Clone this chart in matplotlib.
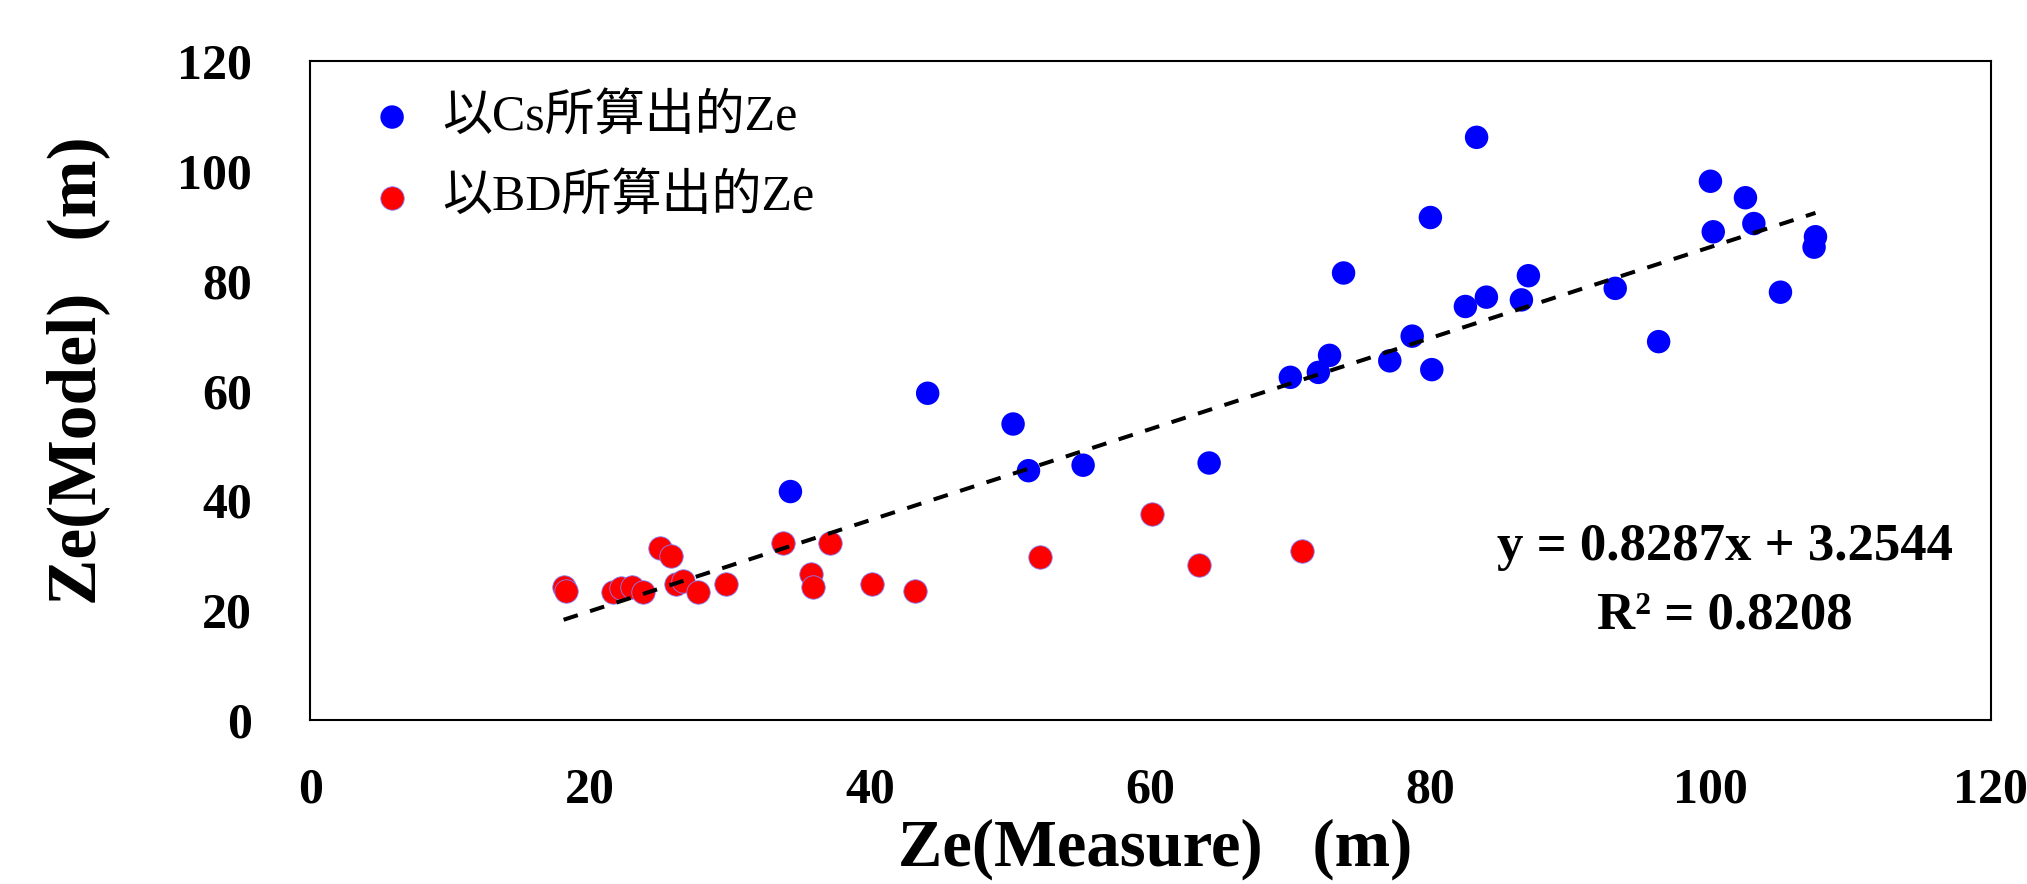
import matplotlib
matplotlib.use('Agg')
import matplotlib.pyplot as plt
import numpy as np

plt.rcParams['font.family'] = ['Liberation Serif', 'Noto Sans CJK TC']

# Ze computed from Cs (blue)
cs_x = [34.3, 44.1, 50.2, 51.3, 55.2, 64.2, 70.0, 72.0, 72.8, 73.8, 77.1, 78.7, 80.0, 80.1,
        82.5, 83.3, 84.0, 86.5, 87.0, 93.2, 96.3, 100.0, 100.2, 102.5, 103.1, 105.0, 107.4, 107.5]
cs_y = [41.6, 59.5, 53.9, 45.4, 46.4, 46.8, 62.4, 63.3, 66.4, 81.4, 65.4, 69.9, 91.5, 63.8,
        75.3, 106.1, 77.0, 76.5, 80.9, 78.6, 68.9, 98.1, 88.9, 95.1, 90.4, 77.9, 86.1, 88.0]

# Ze computed from BD (red)
bd_x = [18.1, 18.3, 21.6, 22.2, 23.0, 23.8, 25.0, 25.8, 26.1, 26.6, 27.7, 29.7, 33.8, 35.8,
        35.9, 37.1, 40.1, 43.2, 52.1, 60.1, 63.5, 70.8]
bd_y = [24.2, 23.5, 23.3, 24.0, 24.2, 23.3, 31.3, 29.9, 24.7, 25.4, 23.3, 24.7, 32.2, 26.6,
        24.2, 32.2, 24.7, 23.5, 29.6, 37.6, 28.2, 30.8]

slope = 0.8287
intercept = 3.2544
r2 = 0.8208

ticks = [0, 20, 40, 60, 80, 100, 120]

fig = plt.figure(figsize=(20.27, 8.84), dpi=100)
ax = fig.add_axes([0.153, 0.1855, 0.829, 0.7455])

ax.scatter(cs_x, cs_y, s=285, color='#0000ff', edgecolors='none', zorder=3,
           label='以Cs所算出的Ze')
ax.scatter(bd_x, bd_y, s=285, color='#ff0000', edgecolors='#8080ff', linewidths=0.6,
           zorder=3, label='以BD所算出的Ze')

# linear trend line over all points
all_x = np.array(cs_x + bd_x)
tx = np.array([all_x.min(), all_x.max()])
ax.plot(tx, slope * tx + intercept, color='black', lw=2.9, dashes=(3.7, 3.2), zorder=4)

ax.set_xlim(0, 120)
ax.set_ylim(0, 120)
ax.set_xticks(ticks)
ax.set_yticks(ticks)
ax.tick_params(length=0, labelsize=36)
ax.tick_params(axis='y', pad=42)
ax.tick_params(axis='x', pad=34)
for lab in ax.get_xticklabels() + ax.get_yticklabels():
    lab.set_fontweight('bold')
for sp in ax.spines.values():
    sp.set_linewidth(1.5)
    sp.set_color('black')

ax.set_xlabel('Ze(Measure)   (m)', fontsize=48, fontweight='bold', va='center')
ax.xaxis.set_label_coords(0.503, -0.196)
ax.set_ylabel('Ze(Model)   (m)', fontsize=50, fontweight='bold', va='center')
ax.yaxis.set_label_coords(-0.138, 0.53)

ax.text(0.842, 0.262, 'y = %.4fx + %.4f' % (slope, intercept), transform=ax.transAxes,
        fontsize=38, fontweight='bold', ha='center', va='center')
ax.text(0.842, 0.158, 'R\u00b2 = %.4f' % r2, transform=ax.transAxes,
        fontsize=38, fontweight='bold', ha='center', va='center')

ax.legend(loc='upper left', bbox_to_anchor=(0.022, 0.98), frameon=False, fontsize=36,
          handlelength=1.0, handletextpad=0.5, labelspacing=0.67, scatterpoints=1,
          borderaxespad=0)

fig.savefig('out.png', dpi=100)
